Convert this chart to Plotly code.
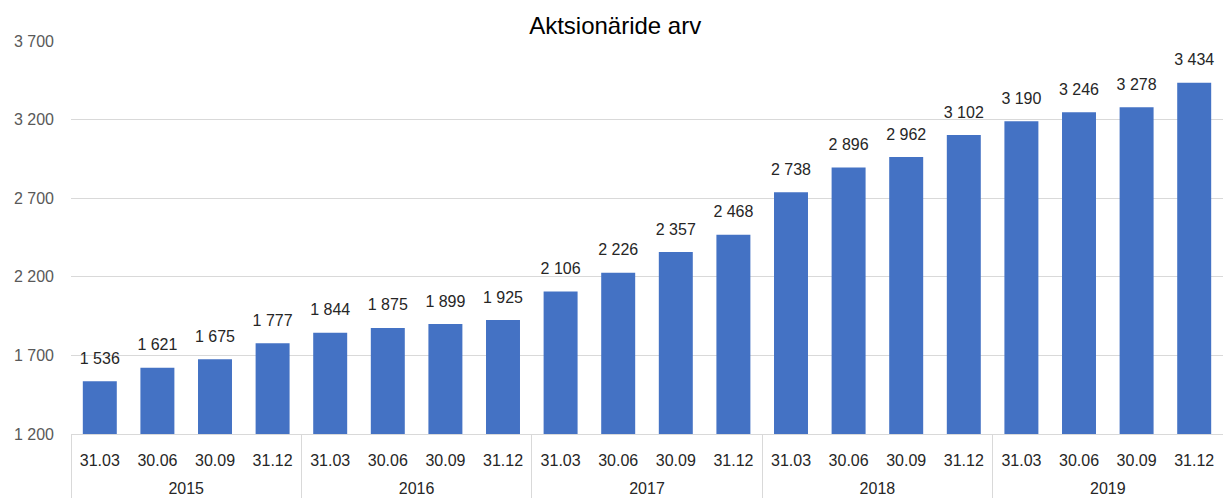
import plotly.graph_objects as go

years = ["2015"] * 4 + ["2016"] * 4 + ["2017"] * 4 + ["2018"] * 4 + ["2019"] * 4
quarters = ["31.03", "30.06", "30.09", "31.12"] * 5
values = [1536, 1621, 1675, 1777, 1844, 1875, 1899, 1925, 2106, 2226,
          2357, 2468, 2738, 2896, 2962, 3102, 3190, 3246, 3278, 3434]
y_ticks = [1200, 1700, 2200, 2700, 3200, 3700]

x_cats = [["<br>" + y for y in years], quarters]

fig = go.Figure()
fig.add_trace(go.Bar(
    x=x_cats, y=values,
    marker=dict(color="#4472C4", line=dict(width=0)),
    hoverinfo="skip",
))
fig.add_trace(go.Scatter(
    x=x_cats, y=values, mode="markers+text",
    marker=dict(size=20, opacity=0),
    texttemplate="%{y:,d}", textposition="top center",
    textfont=dict(size=16, color="#262626", family="Liberation Sans"),
    cliponaxis=False, hoverinfo="skip",
))

fig.update_layout(
    width=1223, height=502,
    margin=dict(l=71, r=0, t=41, b=68),
    paper_bgcolor="white", plot_bgcolor="white",
    separators=", ",
    bargap=0.41,
    showlegend=False,
    font=dict(family="Liberation Sans", size=16, color="#404040"),
    title=dict(text="Aktsionäride arv", x=0.503, xanchor="center", y=0.95, yanchor="middle",
               font=dict(size=24, color="#000000", family="Liberation Sans")),
)
fig.update_yaxes(range=[1200, 3700], tickvals=y_ticks, tickformat=",d",
                 showgrid=True, gridcolor="#D9D9D9", gridwidth=1, zeroline=False,
                 showline=False, tickfont=dict(size=16, color="#595959"), ticks="", ticklen=0,
                 ticklabelstandoff=16)
fig.update_xaxes(type="multicategory", range=[-0.5, len(values) - 0.5],
                 showline=True, linecolor="#D9D9D9", linewidth=1,
                 showdividers=True, dividercolor="#D9D9D9", dividerwidth=1,
                 tickfont=dict(size=16, color="#262626"), ticks="", ticklabelstandoff=12)

fig.write_html("out.html", config={"displayModeBar": False},
               post_script="document.body.style.margin='0';document.body.style.overflow='hidden';")
